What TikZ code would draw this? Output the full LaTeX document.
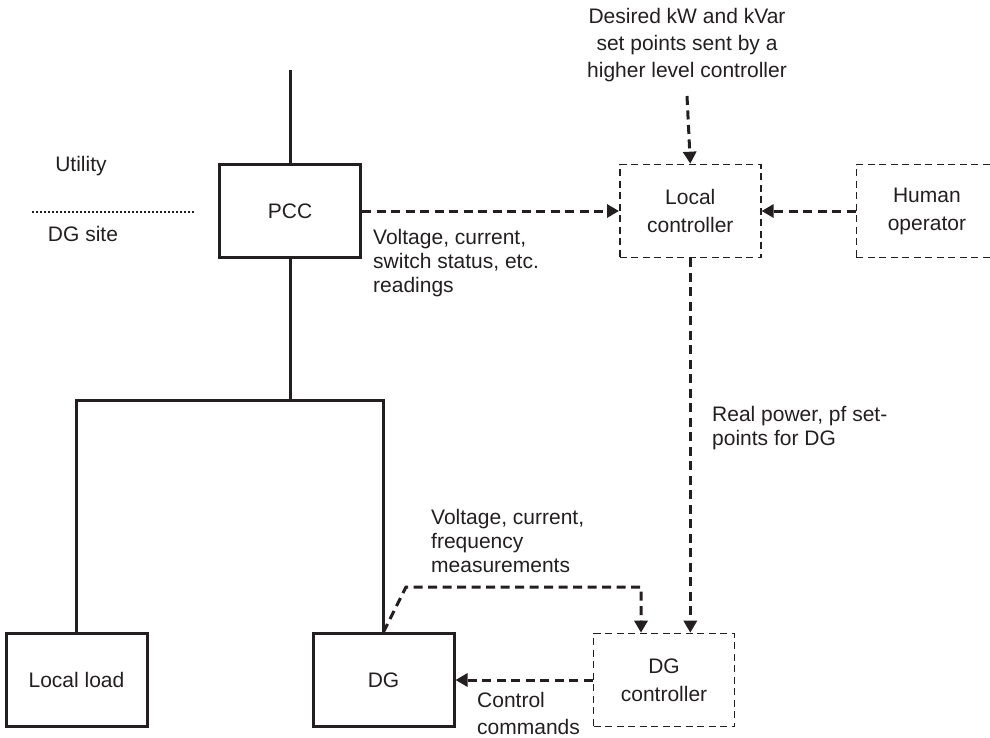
\documentclass[tikz,border=0pt]{standalone}
\usepackage{fontspec}
\setmainfont{Liberation Sans}
\usetikzlibrary{arrows.meta, positioning, calc}
\definecolor{inkGray}{RGB}{35, 31, 32}

\begin{document}
\begin{tikzpicture}[
    x=1pt, y=-1pt,
    blk/.style={rectangle, draw=inkGray, line width=3pt, minimum width=141pt, minimum height=93pt, align=center, text=inkGray, font=\fontsize{21}{28}\selectfont},
    dblk/.style={rectangle, draw=inkGray, line width=1.6pt, dash pattern=on 7pt off 4.5pt, minimum width=141pt, minimum height=93pt, align=center, text=inkGray, font=\fontsize{21}{28}\selectfont},
    wire/.style={line width=3pt, draw=inkGray},
    flow/.style={-{Triangle[length=12pt, width=13pt]}, line width=3pt, dash pattern=on 9pt off 5.5pt, draw=inkGray},
    lbl/.style={align=left, anchor=north west, inner sep=0pt, text=inkGray, font=\fontsize{21}{24}\selectfont}
]
    \useasboundingbox (0,0) rectangle (990,737);

    % Row 1: PCC, Local controller, Human operator
    \node[blk] (pcc) at (290,211) {PCC};
    \node[dblk, right=257pt of pcc] (lc) {Local\\controller};
    \node[dblk, right=94pt of lc] (human) {Human\\operator};

    % Row 2: Local load, DG, DG controller
    \node[blk] (dg) at (383.5,680) {DG};
    \node[blk, left=163pt of dg] (load) {Local load};
    \node[dblk] (dgc) at (664,680) {DG\\controller};

    % Utility / DG site boundary
    \node[lbl, anchor=center] (utility) at (81,166) {Utility};
    \node[lbl, anchor=center] (site) at (83,234) {DG site};
    \coordinate (divL) at (32,212);
    \coordinate (divR) at (195,212);
    \draw[inkGray, line width=1.6pt, dash pattern=on 2pt off 2pt] (divL) -- (divR);

    % Feeder
    \coordinate (grid) at (290,70);
    \coordinate (bus) at (290,400);
    \draw[wire] (grid) -- (pcc.north);
    \draw[wire] (pcc.south) -- (bus);
    \draw[wire] (load.north) |- (bus) -| (dg.north);

    % Signals
    \coordinate (upper) at (687,96);
    \coordinate (mbend) at (406,587);
    \draw[flow] (upper) -- (lc.north);
    \draw[flow] (pcc.east) -- (lc.west);
    \draw[flow] (human.west) -- (lc.east);
    \draw[flow] (lc.south) -- (lc.south |- dgc.north);
    \draw[flow] (dg.north) -- (mbend) -| ([xshift=-23pt]dgc.north);
    \draw[flow] (dgc.west) -- (dg.east);

    % Labels
    \node[lbl, anchor=center, align=center, font=\fontsize{21}{27}\selectfont] (setpt) at (687,45) {Desired kW and kVar\\set points sent by a\\higher level controller};
    \node[lbl] (readings) at (373,229) {Voltage, current,\\switch status, etc.\\readings};
    \node[lbl] (realpf) at (712,406) {Real power, pf set-\\points for DG};
    \node[lbl] (meas) at (431,509) {Voltage, current,\\frequency\\measurements};
    \node[lbl, font=\fontsize{21}{27}\selectfont] (cmds) at (477,692) {Control\\commands};
\end{tikzpicture}
\end{document}
